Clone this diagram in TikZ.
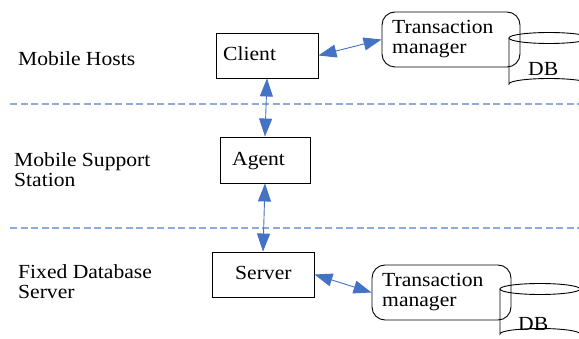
\documentclass[tikz,border=0pt]{standalone}
\usepackage{fontspec}
\setmainfont[FakeStretch=1.08]{Liberation Serif}
\usetikzlibrary{arrows.meta}
\definecolor{arrowblue}{HTML}{4472C4}
\definecolor{dashblue}{HTML}{8FAADC}
\begin{document}
\begin{tikzpicture}[x=1pt,y=-1pt,
  box/.style={draw=black,line width=0.9pt,minimum width=#1,inner sep=0pt},
  lbl/.style={anchor=base west,inner sep=0pt,font=\fontsize{20}{20}\selectfont,align=left},
  biarrow/.style={draw=arrowblue,line width=0.9pt,{Triangle[length=18pt,width=13pt]}-{Triangle[length=18pt,width=13pt]}},
  sep/.style={draw=dashblue,line width=1.1pt,dash pattern=on 7pt off 3.5pt},
  dbline/.style={draw=black,line width=0.9pt}]
\useasboundingbox (0,0) rectangle (579,339);
\clip (0,0) rectangle (579,339);

% separators
\coordinate (s1a) at (10,104); \coordinate (s1b) at (579,104);
\coordinate (s2a) at (10,228); \coordinate (s2b) at (579,228);
\draw[sep] (s1a) -- (s1b);
\draw[sep] (s2a) -- (s2b);

% layer labels (anchor = baseline of the last line)
\node[lbl] (lmh) at (18,66) {Mobile Hosts};
\node[lbl] (lms) at (14,187) {Mobile Support\\Station};
\node[lbl] (lfd) at (18,299) {Fixed Database\\Server};

% boxes
\node[box=102pt,minimum height=45pt] (client) at (267,55.5) {};
\node[box=90pt,minimum height=46pt] (agent) at (265,160) {};
\node[box=102pt,minimum height=45pt] (server) at (263,274.5) {};
\node[box=138pt,minimum height=55pt,rounded corners=13pt] (tm1) at (451,39.5) {};
\node[box=139pt,minimum height=55pt,rounded corners=13pt] (tm2) at (441.5,292.5) {};

\node[lbl] (tclient) at (223,61) {Client};
\node[lbl] (tagent) at (232,166) {Agent};
\node[lbl] (tserver) at (235,280) {Server};
\node[lbl] (ttm1) at (392,54) {Transaction\\manager};
\node[lbl] (ttm2) at (382,307) {Transaction\\manager};

% DB cylinders
\draw[dbline] (549,38) ellipse [x radius=40, y radius=5.5];
\draw[dbline] (509,38) -- (509,84) arc[start angle=180,end angle=360,x radius=40,y radius=5.5] -- (589,38);
\draw[dbline] (540,289) ellipse [x radius=40, y radius=5.5];
\draw[dbline] (500,289) -- (500,334) arc[start angle=180,end angle=360,x radius=40,y radius=5.5] -- (580,289);
\node[lbl] (db1) at (528,76) {DB};
\node[lbl] (db2) at (518,331) {DB};

% arrows
\draw[biarrow] (client.south) -- (agent.north);
\draw[biarrow] (agent.south) -- (server.north);
\draw[biarrow] (client.east) -- (tm1.west);
\draw[biarrow] (server.east) -- (tm2.west);
\end{tikzpicture}
\end{document}
